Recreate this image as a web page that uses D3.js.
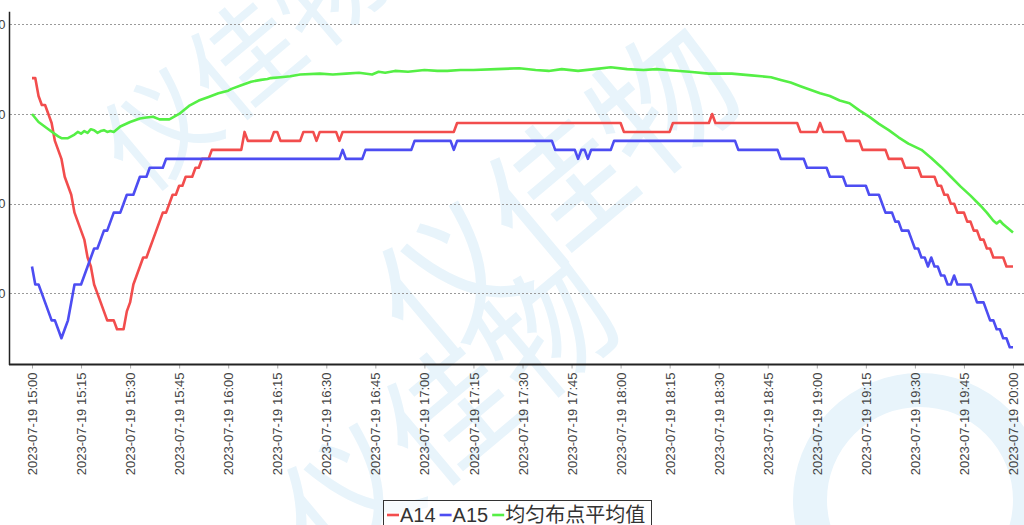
<!DOCTYPE html>
<html>
<head>
<meta charset="utf-8">
<script src="https://cdn.jsdelivr.net/npm/d3@7"></script>
<style>
  html, body { margin: 0; padding: 0; background: #fff; overflow: hidden; }
  svg { display: block; }
  .grid line { stroke: #9a9a9a; stroke-dasharray: 2,2; }
  .axis text { fill: #444; font-family: "Liberation Sans", Arial, sans-serif; font-size: 13px; }
  .legend text { fill: #333; font-family: "Liberation Sans", "Noto Sans CJK SC", sans-serif; font-size: 20px; }
</style>
</head>
<body>
<div id="chart"></div>
<script>
// time axis: minutes after 15:00 on 2023-07-19
var startTime = "2023-07-19 15:00";
var endTime = "2023-07-19 20:00";
var yTicks = [23, 24, 25, 26];
var seriesNames = ["A14", "A15", "均匀布点平均值"];

var a14Minutes = [0,1,2,3,4,5,6,7,8,9,10,11,12,13,14,15,16,17,18,19,20,21,22,23,24,25,26,27,28,29,
  30,31,32,33,34,35,36,37,38,39,40,41,42,43,44,45,46,47,48,49,50,51,52,53,54,55,56,
  64,65,66,73,74,75,76,82,83,86,87,88,93,94,95,129,130,180,181,195,196,207,208,209,
  234,235,240,241,242,248,249,253,254,261,262,266,267,271,272,276,277,278,279,280,281,282,
  283,285,286,287,288,289,290,291,292,293,294,297,298,300];
var a14Values = [25.4,25.4,25.2,25.1,25.1,25.0,24.9,24.7,24.6,24.5,24.3,24.2,24.1,23.9,23.8,23.7,23.6,23.4,23.3,23.1,
  23.0,22.9,22.8,22.7,22.7,22.7,22.6,22.6,22.6,22.8,22.9,23.1,23.2,23.3,23.4,23.4,23.5,23.6,23.7,23.8,
  23.9,23.9,24.0,24.1,24.1,24.2,24.2,24.3,24.3,24.3,24.4,24.4,24.5,24.5,24.5,24.6,24.6,
  24.6,24.8,24.7,24.7,24.8,24.8,24.7,24.7,24.8,24.8,24.7,24.8,24.8,24.7,24.8,24.8,24.9,24.9,24.8,24.8,24.9,24.9,25.0,24.9,
  24.9,24.8,24.8,24.9,24.8,24.8,24.7,24.7,24.6,24.6,24.5,24.5,24.4,24.4,24.3,24.3,24.2,24.2,24.1,24.1,24.0,24.0,
  23.9,23.9,23.8,23.8,23.7,23.7,23.6,23.6,23.5,23.5,23.4,23.4,23.3,23.3];

var a15Minutes = [0,1,2,3,4,5,6,7,8,9,10,11,12,13,14,15,16,17,18,19,20,21,22,23,24,25,26,27,28,29,
  30,31,32,33,34,35,36,40,41,94,95,96,101,102,116,117,128,129,130,159,160,166,167,168,169,170,171,177,178,
  215,216,228,229,236,237,243,244,248,249,255,256,259,260,261,263,264,265,266,268,269,270,271,272,273,
  274,275,276,277,278,279,280,281,282,283,287,288,289,291,292,293,294,295,296,297,298,299,300];
var a15Values = [23.3,23.1,23.1,23.0,22.9,22.8,22.7,22.7,22.6,22.5,22.6,22.7,22.9,23.1,23.1,23.1,23.2,23.3,23.4,23.5,
  23.5,23.6,23.7,23.7,23.8,23.9,23.9,23.9,24.0,24.1,24.1,24.1,24.2,24.3,24.3,24.3,24.4,24.4,24.5,24.5,
  24.6,24.5,24.5,24.6,24.6,24.7,24.7,24.6,24.7,24.7,24.6,24.6,24.5,24.6,24.6,24.5,24.6,24.6,24.7,
  24.7,24.6,24.6,24.5,24.5,24.4,24.4,24.3,24.3,24.2,24.2,24.1,24.1,24.0,23.9,23.9,23.8,23.8,23.7,23.7,
  23.6,23.5,23.5,23.4,23.4,23.3,23.4,23.3,23.3,23.2,23.2,23.1,23.1,23.2,23.1,23.1,23.0,22.9,22.9,
  22.8,22.7,22.7,22.6,22.6,22.5,22.5,22.4,22.4];

var avgMinutes = [0,2,5,8,9,11,13,14,15,16,17,18,19,20,21,22,23,24,25,27,30,33,35,37,39,42,45,48,51,54,
  57,60,61,64,67,70,72,73,76,79,82,88,92,96,100,104,106,108,111,115,120,124,127,131,135,142,149,154,158,
  162,167,172,177,182,187,191,194,201,207,214,220,226,229,232,235,238,241,244,247,250,253,256,259,262,
  265,268,272,275,278,281,284,287,290,292,294,295,296,297,298,300];
var avgValues = [25.00,24.91,24.83,24.75,24.73,24.73,24.77,24.80,24.78,24.81,24.79,24.83,24.82,24.79,24.81,24.82,24.80,24.81,24.80,24.86,
  24.91,24.95,24.96,24.97,24.94,24.94,25.00,25.09,25.15,25.19,
  25.23,25.26,25.28,25.32,25.36,25.38,25.39,25.40,25.41,25.42,25.44,25.45,25.44,25.45,25.46,25.44,25.47,25.46,25.48,25.47,
  25.49,25.48,25.48,25.49,25.49,25.50,25.51,25.49,25.48,25.50,25.48,25.50,25.52,25.50,25.49,25.50,25.49,25.47,25.45,25.45,
  25.43,25.41,25.38,25.35,25.31,25.27,25.23,25.20,25.15,25.12,25.04,24.97,24.89,24.82,
  24.74,24.67,24.60,24.51,24.41,24.30,24.19,24.09,23.98,23.90,23.81,23.78,23.81,23.77,23.74,23.68];

var seriesColors = ["#f24d4d", "#4d4df2", "#55ef45"];

var parseTime = d3.timeParse("%Y-%m-%d %H:%M");
var t0 = parseTime(startTime);

function buildSeries(minutes, values) {
  return minutes.map(function (m, i) {
    return { date: d3.timeMinute.offset(t0, m), value: values[i] };
  });
}

var series = [
  buildSeries(a14Minutes, a14Values),
  buildSeries(a15Minutes, a15Values),
  buildSeries(avgMinutes, avgValues)
];

var width = 1024, height = 525;
var svg = d3.select("#chart")
  .append("svg")
    .attr("width", width)
    .attr("height", height);

var x = d3.scaleTime()
  .domain([t0, parseTime(endTime)])
  .range([32, 1013]);

var y = d3.scaleLinear()
  .domain([22.21, 26.14])
  .range([364.3, 11.7]);

// watermark (pale, behind everything)
var mark = svg.append("g")
  .attr("fill", "#e8f4fb")
  .attr("font-family", "'Noto Sans CJK SC', sans-serif");
[[270, 90, -40, 110], [590, 230, -40, 140], [480, 450, -40, 130]].forEach(function (w) {
  mark.append("text")
    .attr("transform", "translate(" + w[0] + "," + w[1] + ") rotate(" + w[2] + ")")
    .attr("text-anchor", "middle")
    .attr("font-size", w[3])
    .text("仪佳物");
});
mark.append("circle")
  .attr("cx", 920).attr("cy", 500).attr("r", 110)
  .attr("fill", "none")
  .attr("stroke", "#e8f4fb")
  .attr("stroke-width", 34);

// grid
svg.append("g")
  .attr("class", "grid")
  .selectAll("line")
  .data(yTicks)
  .join("line")
    .attr("x1", 10)
    .attr("x2", width)
    .attr("y1", function (d) { return Math.round(y(d)) + 0.5; })
    .attr("y2", function (d) { return Math.round(y(d)) + 0.5; });

// y axis
var yAxis = svg.append("g")
  .attr("class", "axis")
  .attr("transform", "translate(9.5,0)")
  .call(d3.axisLeft(y).tickValues(yTicks).tickSize(0).tickPadding(4));
yAxis.select(".domain").remove();
svg.append("line")
  .attr("x1", 9.5).attr("x2", 9.5)
  .attr("y1", 11.7).attr("y2", 365)
  .attr("stroke", "#222").attr("stroke-width", 1.5);

// x axis
var xAxis = svg.append("g")
  .attr("class", "axis")
  .attr("transform", "translate(0,364.5)")
  .call(d3.axisBottom(x)
    .ticks(d3.timeMinute.every(15))
    .tickSize(4)
    .tickFormat(d3.timeFormat("%Y-%m-%d %H:%M")));
xAxis.select(".domain").remove();
xAxis.selectAll(".tick line").attr("stroke", "#aaa");
xAxis.selectAll(".tick text")
  .attr("transform", "rotate(-90)")
  .attr("text-anchor", "end")
  .attr("x", -8)
  .attr("y", 0)
  .attr("dy", "0.35em");
svg.append("line")
  .attr("x1", 9).attr("x2", width)
  .attr("y1", 364.5).attr("y2", 364.5)
  .attr("stroke", "#222").attr("stroke-width", 2);

// lines
var line = d3.line()
  .x(function (d) { return x(d.date); })
  .y(function (d) { return y(d.value); });

svg.append("g")
  .selectAll("path")
  .data(series)
  .join("path")
    .attr("fill", "none")
    .attr("stroke", function (d, i) { return seriesColors[i]; })
    .attr("stroke-width", 2.6)
    .attr("stroke-linejoin", "round")
    .attr("d", line);

// legend
var legend = svg.append("g").attr("class", "legend");
legend.append("rect")
  .attr("x", 383.5).attr("y", 500.5)
  .attr("width", 268).attr("height", 40)
  .attr("fill", "#fff")
  .attr("fill-opacity", 0.6)
  .attr("stroke", "#333");
var lx = 387;
seriesNames.forEach(function (name, i) {
  legend.append("line")
    .attr("x1", lx).attr("x2", lx + 12)
    .attr("y1", 515).attr("y2", 515)
    .attr("stroke", seriesColors[i])
    .attr("stroke-width", 2.6);
  var t = legend.append("text")
    .attr("x", lx + 13)
    .attr("y", 522)
    .text(name);
  lx += 13 + t.node().getComputedTextLength() + 4;
});
</script>
</body>
</html>
